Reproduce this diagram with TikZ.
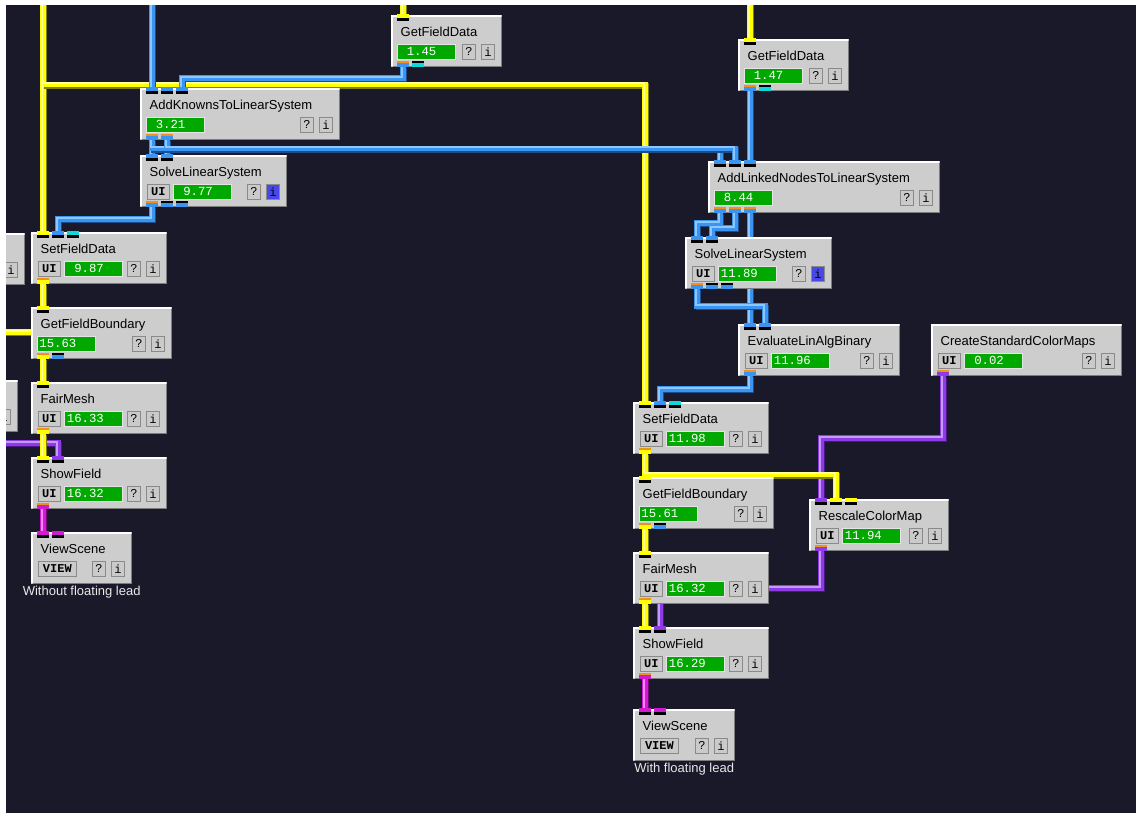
\documentclass[tikz,border=0pt]{standalone}
\usepackage{fontspec}
\setmainfont{Liberation Sans}
\newfontfamily\monof{Liberation Mono}
\usetikzlibrary{calc}
\definecolor{bg}{HTML}{191929}
\definecolor{modgray}{HTML}{CDCDCD}
\definecolor{edgec}{HTML}{7C7C7C}
\definecolor{btngray}{HTML}{CACACA}
\definecolor{btnedge}{HTML}{8A8A8A}
\definecolor{gfill}{HTML}{00A800}
\definecolor{gedge}{HTML}{E4E4E4}
\definecolor{iblue}{HTML}{4848E8}
\definecolor{captc}{HTML}{E8E8E8}
\definecolor{orangep}{HTML}{F0901E}
\definecolor{cyanp}{HTML}{10D8D8}
\definecolor{Ymd}{HTML}{FFFF00}
\definecolor{Ydk}{HTML}{7E7E08}
\definecolor{Ylt}{HTML}{FFFF9A}
\definecolor{Bmd}{HTML}{3A94F0}
\definecolor{Bdk}{HTML}{1A4E8E}
\definecolor{Blt}{HTML}{8CC8FF}
\definecolor{Pmd}{HTML}{8E3AE6}
\definecolor{Pdk}{HTML}{4A1886}
\definecolor{Plt}{HTML}{C49AFF}
\definecolor{Mmd}{HTML}{D21AD2}
\definecolor{Mdk}{HTML}{740A74}
\definecolor{Mlt}{HTML}{FF86FF}
\tikzset{
  modbox/.style={rectangle, inner sep=0pt, minimum height=52pt, fill=modgray},
  titletext/.style={inner sep=0pt, font=\fontsize{13}{15}\selectfont, text=black},
  btn/.style={rectangle, inner sep=0pt, minimum width=13pt, minimum height=14.5pt, fill=btngray, draw=btnedge, line width=0.8pt, font=\monof\fontsize{12}{13}\selectfont, text=black},
  uibtn/.style={btn, minimum width=22pt, font=\monof\bfseries\fontsize{12}{13}\selectfont},
  numbox/.style={rectangle, inner sep=0pt, minimum width=58pt, minimum height=14.5pt, fill=gfill, draw=gedge, line width=0.8pt},
  numtext/.style={inner sep=0pt, font=\monof\fontsize{12.3}{14}\selectfont, text=white},
  captext/.style={inner sep=0pt, font=\fontsize{13}{15}\selectfont, text=captc},
  pipe/.style={line width=5.6pt, line join=miter, line cap=butt},
}
\newcommand{\pipe}[2]{%
  \draw[pipe, draw=#1dk, transform canvas={shift={(1.4,1.4)}}] #2;
  \draw[pipe, draw=#1md] #2;
  \draw[pipe, line width=1.9pt, draw=#1lt, transform canvas={shift={(-1.4,-1.4)}}] #2;
}
\newcommand{\modbase}[6]{%
  \node[modbox, minimum width=#4pt, anchor=north west] (#1) at (#2,#3) {};
  \draw[white, line width=1.5pt] (#2+0.75,#3+51.25) -- (#2+0.75,#3+0.75) -- (#2+#4-0.75,#3+0.75);
  \draw[edgec, line width=1.5pt] (#2+1.5,#3+51.25) -- (#2+#4-0.75,#3+51.25) -- (#2+#4-0.75,#3+1.5);
  \node[titletext, anchor=base west] (#1-t) at (#2+9.5,#3+21.5) {#5};
  \node[btn, anchor=north west] (#1-q) at (#2+#4-40,#3+29) {?};
  \node[btn, fill=#6, anchor=north west] (#1-ib) at (#2+#4-21,#3+29) {i};
}
\newcommand{\numfield}[4]{%
  \node[numbox, anchor=north west] (#1-g) at (#2,#3) {};
  \node[numtext, anchor=base east] (#1-n) at (#2+40,#3+11.7) {#4};
}
\newcommand{\modU}[7]{%
  \modbase{#1}{#2}{#3}{#4}{#5}{#7}
  \node[uibtn, anchor=north west] (#1-ui) at (#2+7,#3+29) {UI};
  \numfield{#1}{#2+33}{#3+29}{#6}
}
\newcommand{\modN}[6]{%
  \modbase{#1}{#2}{#3}{#4}{#5}{btngray}
  \numfield{#1}{#2+5.5}{#3+29}{#6}
}
\newcommand{\modV}[5]{%
  \modbase{#1}{#2}{#3}{#4}{#5}{btngray}
  \node[uibtn, minimum width=38pt, anchor=north west] (#1-v) at (#2+7,#3+29) {VIEW};
}
\newcommand{\inport}[2]{%
  \fill[#2] ($(#1)+(-6,-1.5)$) rectangle ($(#1)+(6,3)$);
  \fill[black] ($(#1)+(-6,3)$) rectangle ($(#1)+(6,5.5)$);
}
\newcommand{\outport}[3]{%
  \fill[#2] ($(#1)+(-6,-6.5)$) rectangle ($(#1)+(6,-4.3)$);
  \fill[#3] ($(#1)+(-6,-4.3)$) rectangle ($(#1)+(6,-0.3)$);
}
\begin{document}
\begin{tikzpicture}[x=1pt,y=-1pt]
\useasboundingbox (0,0) rectangle (1136,812);
\fill[bg] (-10,-10) rectangle (1146,822);

% free ends of the leads
\coordinate (topL) at (43,0);
\coordinate (yj1) at (43,84.5);
\coordinate (topB) at (152,0);
\coordinate (topG1) at (403,0);
\coordinate (topG2) at (750,0);
\coordinate (leftY) at (0,332);
\coordinate (leftP) at (0,443);
\coordinate (gfbAw) at (31,332);

% port coordinates of every module
\foreach \id/\x/\y in {gfdA/391/15, ak/140/88, slA/140/155, sfA/31/232, gfbA/31/307, fmA/31/382, shA/31/457, vsA/31/532,
  gfdB/738/39, ln/708/161, slB/685/237, ev/738/324, cs/931/324, sfB/633/402, gfbB/633/477, rc/809/499, fmB/633/552, shB/633/627, vsB/633/709}{
  \foreach \k in {1,2,3,4}{\coordinate (\id-i\k) at (\x+15*\k-3,\y);}
  \foreach \k in {1,2,3}{\coordinate (\id-o\k) at (\x+15*\k-3,\y+52);}
}

% ---- wires
\pipe{P}{(leftP) -| (shA-i2)}
\pipe{P}{(cs-o1) -- ++(0,62) -| (rc-i1)}
\pipe{P}{(rc-o1) -- ++(0,37) -| (shB-i2)}

\pipe{Y}{(topL) -- (sfA-i1)}
\pipe{Y}{(yj1) -| (sfB-i1)}
\pipe{Y}{(topG1) -- (gfdA-i1)}
\pipe{Y}{(topG2) -- (gfdB-i1)}
\pipe{Y}{(sfA-o1) -- (gfbA-i1)}
\pipe{Y}{(leftY) -- (gfbAw)}
\pipe{Y}{(gfbA-o1) -- (fmA-i1)}
\pipe{Y}{(fmA-o1) -- (shA-i1)}
\pipe{Y}{(sfB-o1) -- (gfbB-i1)}
\pipe{Y}{(sfB-o1) -- ++(0,20.5) -| (rc-i2)}
\pipe{Y}{(gfbB-o1) -- (fmB-i1)}
\pipe{Y}{(fmB-o1) -- (shB-i1)}

\pipe{B}{(topB) -- (ak-i1)}
\pipe{B}{(gfdA-o1) -- ++(0,11) -| (ak-i3)}
\pipe{B}{(ak-o1) -- (slA-i1)}
\pipe{B}{(ak-o2) -- (slA-i2)}
\pipe{B}{(ak-o1) -- ++(0,8.5) -| (ln-i1)}
\pipe{B}{(ak-o2) -- ++(0,8.5) -| (ln-i2)}
\pipe{B}{(slA-o1) -- ++(0,12) -| (sfA-i2)}
\pipe{B}{(gfdB-o1) -- (ln-i3)}
\pipe{B}{(ln-o1) -- ++(0,10) -| (slB-i1)}
\pipe{B}{(ln-o2) -- ++(0,15) -| (slB-i2)}
\pipe{B}{(ln-o3) -- (ev-i1)}
\pipe{B}{(slB-o1) -- ++(0,17) -| (ev-i2)}
\pipe{B}{(ev-o1) -- ++(0,13) -| (sfB-i2)}

\pipe{M}{(shA-o1) -- (vsA-i1)}
\pipe{M}{(shB-o1) -- (vsB-i1)}

% ---- partial modules at the left edge
\node[modbox, minimum width=136pt, anchor=north west] (pL1) at (-111,233) {};
\draw[white, line width=1.5pt] (-111,233.75) -- (24.25,233.75);
\draw[edgec, line width=1.5pt] (-111,284.25) -- (24.25,284.25) -- (24.25,234.5);
\node[btn, anchor=north west] (pL1-ib) at (4,262) {i};
\node[modbox, minimum width=136pt, anchor=north west] (pL2) at (-118,380) {};
\draw[white, line width=1.5pt] (-118,380.75) -- (17.25,380.75);
\draw[edgec, line width=1.5pt] (-118,431.25) -- (17.25,431.25) -- (17.25,381.5);
\node[btn, anchor=north west] (pL2-ib) at (-3,409) {i};

% ---- modules
\modN{gfdA}{391}{15}{111}{GetFieldData}{1.45}
\modN{ak}{140}{88}{200}{AddKnownsToLinearSystem}{3.21}
\modU{slA}{140}{155}{147}{SolveLinearSystem}{9.77}{iblue}
\modU{sfA}{31}{232}{136}{SetFieldData}{9.87}{btngray}
\modN{gfbA}{31}{307}{141}{GetFieldBoundary}{15.63}
\modU{fmA}{31}{382}{136}{FairMesh}{16.33}{btngray}
\modU{shA}{31}{457}{136}{ShowField}{16.32}{btngray}
\modV{vsA}{31}{532}{101}{ViewScene}
\modN{gfdB}{738}{39}{111}{GetFieldData}{1.47}
\modN{ln}{708}{161}{232}{AddLinkedNodesToLinearSystem}{8.44}
\modU{slB}{685}{237}{147}{SolveLinearSystem}{11.89}{iblue}
\modU{ev}{738}{324}{162}{EvaluateLinAlgBinary}{11.96}{btngray}
\modU{cs}{931}{324}{191}{CreateStandardColorMaps}{0.02}{btngray}
\modU{sfB}{633}{402}{136}{SetFieldData}{11.98}{btngray}
\modN{gfbB}{633}{477}{141}{GetFieldBoundary}{15.61}
\modU{rc}{809}{499}{140}{RescaleColorMap}{11.94}{btngray}
\modU{fmB}{633}{552}{136}{FairMesh}{16.32}{btngray}
\modU{shB}{633}{627}{136}{ShowField}{16.29}{btngray}
\modV{vsB}{633}{709}{102}{ViewScene}

% ---- ports
\inport{gfdA-i1}{Ymd}
\outport{gfdA-o1}{orangep}{Bmd}\outport{gfdA-o2}{black}{cyanp}
\inport{ak-i1}{Bmd}\inport{ak-i2}{Bmd}\inport{ak-i3}{Bmd}
\outport{ak-o1}{orangep}{Bmd}\outport{ak-o2}{orangep}{Bmd}
\inport{slA-i1}{Bmd}\inport{slA-i2}{Bmd}
\outport{slA-o1}{orangep}{Bmd}\outport{slA-o2}{black}{Bmd}\outport{slA-o3}{black}{Bmd}
\inport{sfA-i1}{Ymd}\inport{sfA-i2}{Bmd}\inport{sfA-i3}{cyanp}
\outport{sfA-o1}{orangep}{Ymd}
\inport{gfbA-i1}{Ymd}
\outport{gfbA-o1}{orangep}{Ymd}\outport{gfbA-o2}{black}{Bmd}
\inport{fmA-i1}{Ymd}\outport{fmA-o1}{orangep}{Ymd}
\inport{shA-i1}{Ymd}\inport{shA-i2}{Pmd}\outport{shA-o1}{orangep}{Mmd}
\inport{vsA-i1}{Mmd}\inport{vsA-i2}{Mmd}

\inport{gfdB-i1}{Ymd}
\outport{gfdB-o1}{orangep}{Bmd}\outport{gfdB-o2}{black}{cyanp}
\inport{ln-i1}{Bmd}\inport{ln-i2}{Bmd}\inport{ln-i3}{Bmd}
\outport{ln-o1}{orangep}{Bmd}\outport{ln-o2}{orangep}{Bmd}\outport{ln-o3}{orangep}{Bmd}
\inport{slB-i1}{Bmd}\inport{slB-i2}{Bmd}
\outport{slB-o1}{orangep}{Bmd}\outport{slB-o2}{black}{Bmd}\outport{slB-o3}{black}{Bmd}
\inport{ev-i1}{Bmd}\inport{ev-i2}{Bmd}\outport{ev-o1}{orangep}{Bmd}
\outport{cs-o1}{orangep}{Pmd}
\inport{sfB-i1}{Ymd}\inport{sfB-i2}{Bmd}\inport{sfB-i3}{cyanp}
\outport{sfB-o1}{orangep}{Ymd}
\inport{gfbB-i1}{Ymd}
\outport{gfbB-o1}{orangep}{Ymd}\outport{gfbB-o2}{black}{Bmd}
\inport{rc-i1}{Pmd}\inport{rc-i2}{Ymd}\inport{rc-i3}{Ymd}
\outport{rc-o1}{orangep}{Pmd}
\inport{fmB-i1}{Ymd}\outport{fmB-o1}{orangep}{Ymd}
\inport{shB-i1}{Ymd}\inport{shB-i2}{Pmd}\outport{shB-o1}{orangep}{Mmd}
\inport{vsB-i1}{Mmd}\inport{vsB-i2}{Mmd}

% ---- captions
\node[captext] (capA) at ($(vsA.south)+(0,8)$) {Without floating lead};
\node[captext] (capB) at ($(vsB.south)+(0,8)$) {With floating lead};

% ---- white margins
\fill[white] (-10,-10) rectangle (1146,5);
\fill[white] (-10,-10) rectangle (6,822);
\end{tikzpicture}
\end{document}
